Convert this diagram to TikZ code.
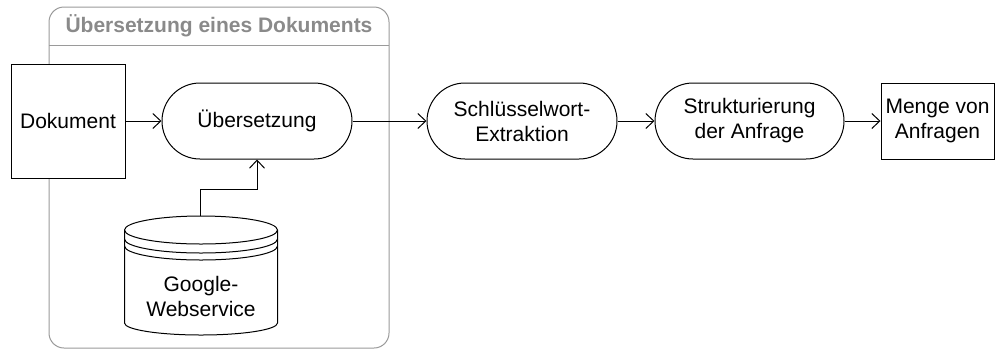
\documentclass[tikz,border=0pt]{standalone}
\usepackage{fontspec}
\setmainfont{Liberation Sans}
\usepackage{tikz}
\usetikzlibrary{positioning}
\usetikzlibrary{shapes.misc,arrows.meta}

\definecolor{frame}{HTML}{9A9A9A}
\definecolor{titlegray}{HTML}{8A8A8A}

\tikzset{
	txt/.style={font=\fontsize{21}{25}\selectfont, align=center, inner sep=0pt},
	proc/.style={txt, draw, rounded rectangle, line width=1pt,
		minimum width=190pt, minimum height=76pt},
	doc/.style={txt, draw, fill=white, rectangle, line width=1pt},
	flow/.style={line width=1pt, -{Straight Barb[length=8pt,width=15pt]}},
}

\begin{document}
\begin{tikzpicture}[x=1pt, y=-1pt]

	\useasboundingbox (0,0) rectangle (995,349);

	% the grey frame round the first step
	\draw[frame, line width=1pt, rounded corners=15pt] (49,7) rectangle (389,348);
	\draw[frame, line width=1pt] (49,45) -- (389,45);
	\node[font=\bfseries\fontsize{21}{25}\selectfont, text=titlegray] (T) at (219,26) {Übersetzung eines Dokuments};

	% the boxes, left to right
	\node[doc, minimum width=114pt, minimum height=114pt] (Dok) at (68,121) {Dokument};
	\node[proc] (Ueb) at (257,121) {Übersetzung};
	\node[proc] (SWE) at (522,121) {Schlüsselwort-\\Extraktion};
	\node[proc, minimum width=189pt] (SdA) at (749.5,121) {Strukturierung\\der Anfrage};
	\node[doc, minimum width=113pt, minimum height=76pt] (MvA) at (937.5,121) {Menge von\\Anfragen};

	% the data store below (y runs downwards, so the front arcs go 180 -> 0)
	\draw[line width=1pt, fill=white] (124.5,230) -- (124.5,323)
		arc[start angle=180, end angle=0, x radius=76.5, y radius=12]
		-- (277.5,230)
		arc[start angle=0, end angle=-180, x radius=76.5, y radius=14] -- cycle;
	\draw[line width=1pt] (124.5,230) arc[start angle=180, end angle=0, x radius=76.5, y radius=14];
	\draw[line width=1pt] (124.5,239) arc[start angle=180, end angle=0, x radius=76.5, y radius=14];
	\draw[line width=1pt] (124.5,246) arc[start angle=180, end angle=0, x radius=76.5, y radius=14];
	\coordinate (GWStop) at (200,216);
	\node[txt] (GWS) at (201,296) {Google-\\Webservice};

	%%%%%%%%%%%%%%%%%%%%%%%%%%%%%%%%%%%%%%%%%%%%%%%%%%%%%%%%%
	\draw[flow] (Dok.east) -- (Ueb.west);
	\draw[flow] (GWStop) -- ++(0,-27) -| (Ueb.south);
	\draw[flow] (Ueb.east) -- (SWE.west);
	\draw[flow] (SWE.east) -- (SdA.west);
	\draw[flow] (SdA.east) -- (MvA.west);

\end{tikzpicture}
\end{document}
